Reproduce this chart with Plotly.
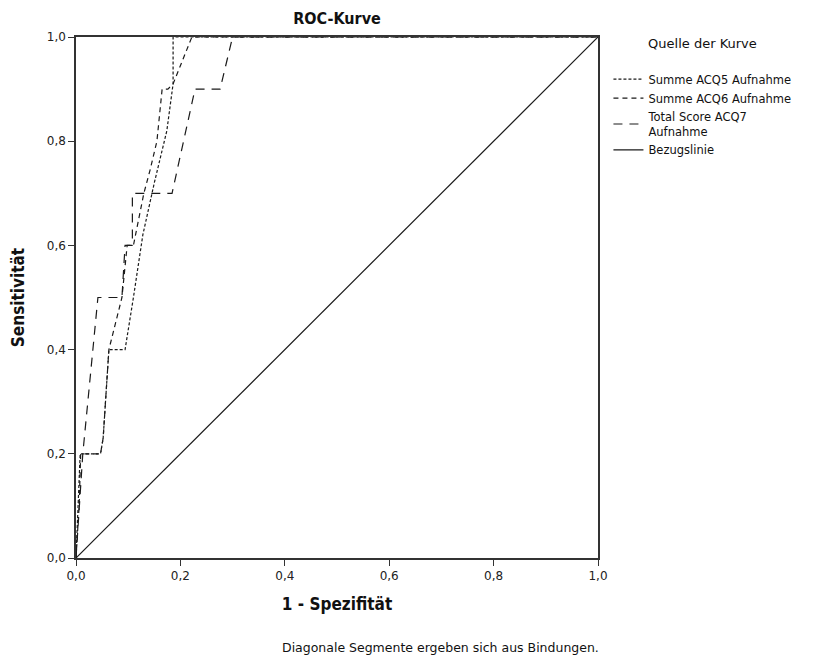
import plotly.graph_objects as go

# ---- data ----
acq5_x = [0.0, 0.004, 0.008, 0.047, 0.052, 0.063, 0.094, 0.11, 0.128, 0.15, 0.174, 0.186, 0.186, 1.0]
acq5_y = [0.0, 0.1, 0.2, 0.2, 0.23, 0.4, 0.4, 0.5, 0.62, 0.72, 0.82, 0.91, 1.0, 1.0]

acq6_x = [0.0, 0.006, 0.009, 0.047, 0.052, 0.063, 0.088, 0.098, 0.11, 0.13, 0.142, 0.155, 0.165, 0.176, 0.186, 0.222, 1.0]
acq6_y = [0.0, 0.1, 0.2, 0.2, 0.23, 0.4, 0.5, 0.6, 0.6, 0.7, 0.745, 0.8, 0.9, 0.9, 0.91, 1.0, 1.0]

acq7_x = [0.0, 0.013, 0.042, 0.088, 0.094, 0.108, 0.108, 0.184, 0.228, 0.276, 0.30, 1.0]
acq7_y = [0.0, 0.2, 0.5, 0.5, 0.6, 0.6, 0.7, 0.7, 0.9, 0.9, 1.0, 1.0]

ref_x = [0.0, 1.0]
ref_y = [0.0, 1.0]

series_names = ["Summe ACQ5 Aufnahme", "Summe ACQ6 Aufnahme", "Total Score ACQ7<br>Aufnahme", "Bezugslinie"]
tick_vals = [0.0, 0.2, 0.4, 0.6, 0.8, 1.0]

FONT = "DejaVu Sans"
COND = "DejaVu Sans Condensed, DejaVu Sans"
LINE = "#1a1a1a"

fig = go.Figure()
fig.add_trace(go.Scatter(x=acq5_x, y=acq5_y, mode="lines", name=series_names[0],
                         line=dict(color=LINE, width=1.2, dash="3px,2px")))
fig.add_trace(go.Scatter(x=acq6_x, y=acq6_y, mode="lines", name=series_names[1],
                         line=dict(color=LINE, width=1.2, dash="5px,4px")))
fig.add_trace(go.Scatter(x=acq7_x, y=acq7_y, mode="lines", name=series_names[2],
                         line=dict(color=LINE, width=1.2, dash="9px,7px")))
fig.add_trace(go.Scatter(x=ref_x, y=ref_y, mode="lines", name=series_names[3],
                         line=dict(color=LINE, width=1.2)))

axis_common = dict(
    range=[0, 1], tickvals=tick_vals, tickformat=".1f",
    showgrid=False, zeroline=False, showline=True, linecolor="#333333", linewidth=1.5,
    mirror=True, ticks="outside", ticklen=6, tickcolor="#333333", tickwidth=1.2,
    tickfont=dict(family=FONT, size=12, color="#222222"),
)

fig.update_layout(
    width=820, height=660,
    margin=dict(l=76, r=222, t=37, b=102),
    paper_bgcolor="white", plot_bgcolor="white",
    separators=",.",
    font=dict(family=FONT, color="#111111"),
    title=dict(text="<b>ROC-Kurve</b>", x=337 / 820, xanchor="center", y=1 - 18 / 660, yanchor="middle",
               font=dict(family=COND, size=16, color="#111111")),
    xaxis=dict(axis_common, title=dict(text="<b>1 - Spezifität</b>", standoff=16,
                                       font=dict(family=COND, size=17))),
    yaxis=dict(axis_common, title=dict(text="<b>Sensitivität</b>", standoff=18,
                                       font=dict(family=COND, size=17))),
    legend=dict(
        x=1.02, xanchor="left", y=1.012, yanchor="top",
        title=dict(text="Quelle der Kurve<br><span style='font-size:6px'> </span>", side="top center",
                   font=dict(family=FONT, size=13)),
        font=dict(family=FONT, size=11.5, color="#111111"),
        tracegroupgap=0, itemwidth=30, bgcolor="rgba(0,0,0,0)",
    ),
    showlegend=True,
)

fig.add_annotation(text="Diagonale Segmente ergeben sich aus Bindungen.",
                   xref="paper", yref="paper", x=(440 - 76) / 522, y=-(647 - 558) / 521,
                   xanchor="center", yanchor="middle", showarrow=False,
                   font=dict(family=FONT, size=12.5, color="#111111"))

fig.write_html("out.html")
